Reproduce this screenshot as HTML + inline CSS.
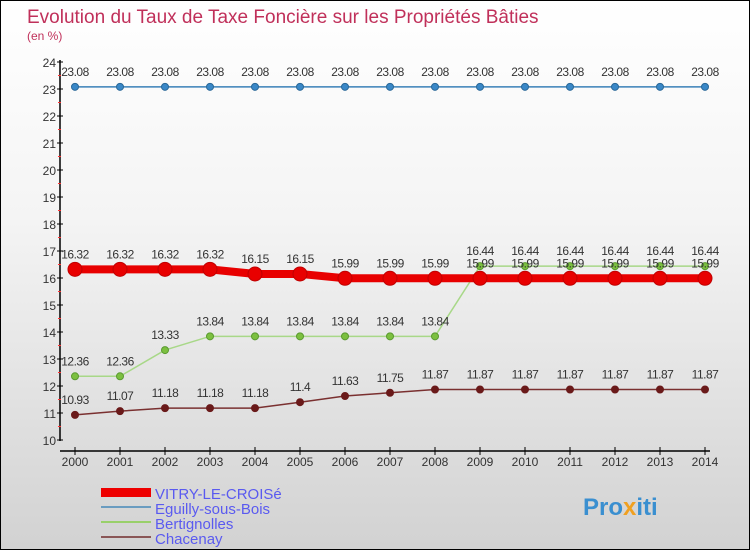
<!DOCTYPE html>
<html><head><meta charset="utf-8"><style>
html,body{margin:0;padding:0}
body{width:750px;height:550px;overflow:hidden;font-family:"Liberation Sans",sans-serif}
#wrap{position:absolute;left:0;top:0;width:748px;height:548px;border:1px solid #000;background:linear-gradient(#fff 0%,#f4f4f4 40%,#d2d2d2 100%)}
</style></head><body>
<div id="wrap">
<svg id="chart" width="750" height="550" style="position:absolute;left:-1px;top:-1px">
<text x="27" y="23" font-size="19" fill="#c0305a">Evolution du Taux de Taxe Foncière sur les Propriétés Bâties</text>
<text x="27" y="40" font-size="12" fill="#c0305a">(en %)</text>
<g id="axes"></g><g id="series"></g>
<g>
<rect x="101" y="488" width="50" height="9" fill="#e00"/>
<rect x="101" y="506" width="50" height="2" fill="#6a9cc0"/>
<rect x="101" y="521" width="50" height="2" fill="#99d06a"/>
<rect x="101" y="536" width="50" height="2" fill="#8a5656"/>
<text x="155" y="499" font-size="15" fill="#5a5af0">VITRY-LE-CROISé</text>
<text x="155" y="514" font-size="15" fill="#5a5af0">Eguilly-sous-Bois</text>
<text x="155" y="529" font-size="15" fill="#5a5af0">Bertignolles</text>
<text x="155" y="544" font-size="15" fill="#5a5af0">Chacenay</text>
</g>
<text x="583" y="515" font-size="24" font-weight="bold" fill="#3a8fd0">Pro<tspan fill="#f0a020">x</tspan>iti</text>
</svg>
</div>
<script>
const years=[2000,2001,2002,2003,2004,2005,2006,2007,2008,2009,2010,2011,2012,2013,2014];
const yTicks=[10,11,12,13,14,15,16,17,18,19,20,21,22,23,24];
const vitry=[16.32,16.32,16.32,16.32,16.15,16.15,15.99,15.99,15.99,15.99,15.99,15.99,15.99,15.99,15.99];
const eguilly=[23.08,23.08,23.08,23.08,23.08,23.08,23.08,23.08,23.08,23.08,23.08,23.08,23.08,23.08,23.08];
const bertignolles=[12.36,12.36,13.33,13.84,13.84,13.84,13.84,13.84,13.84,16.44,16.44,16.44,16.44,16.44,16.44];
const chacenay=[10.93,11.07,11.18,11.18,11.18,11.4,11.63,11.75,11.87,11.87,11.87,11.87,11.87,11.87,11.87];
const NS="http://www.w3.org/2000/svg";
const x=i=>75+(705-75)*(i/(years.length-1));
const y=v=>440-(v-10)*(440-62)/14;
function mk(tag,at,parent){const e=document.createElementNS(NS,tag);for(const k in at)e.setAttribute(k,at[k]);parent.appendChild(e);return e;}
const ax=document.getElementById('axes');
let l=mk('line',{x1:60,y1:60,x2:60,y2:441,stroke:'#000','stroke-width':1.5},ax);


l=mk('line',{x1:60,y1:451,x2:710,y2:451,stroke:'#000','stroke-width':1.5},ax);


yTicks.forEach(t=>{
 mk('line',{x1:57,y1:y(t),x2:63,y2:y(t),stroke:'#000'},ax);
 if(t<24)mk('line',{x1:58,y1:y(t+0.5),x2:61,y2:y(t+0.5),stroke:'#f33'},ax);
 const tx=mk('text',{x:56,y:y(t)+5,'font-size':12,fill:'#333','text-anchor':'end'},ax);
 tx.textContent=t;
 
 
});
years.forEach((yr,i)=>{
 mk('line',{x1:x(i),y1:447,x2:x(i),y2:455,stroke:'#000'},ax);
 const tx=mk('text',{x:x(i),y:466,'font-size':12,fill:'#333','text-anchor':'middle'},ax);
 tx.textContent=yr;
 
 
});
const sg=document.getElementById('series');
function draw(name,vals,color,w,r,dot,stroke){
 const g=mk('g',{},sg);
 
 
 mk('polyline',{points:vals.map((v,i)=>x(i)+','+y(v)).join(' '),fill:'none',stroke:color,'stroke-width':w},g);
 vals.forEach((v,i)=>{
  const c=mk('circle',{cx:x(i),cy:y(v),r:r,fill:dot,stroke:stroke,'stroke-width':1},g);
  
  
  const t=mk('text',{x:x(i),y:y(v)-11,'font-size':12,fill:'#333','text-anchor':'middle','letter-spacing':'-0.5'},g);
  t.textContent=v;
  
  
 });
}
draw('chacenay',chacenay,'#7a3030',1.5,3.5,'#6a1a1a','#6a1a1a');
draw('bertignolles',bertignolles,'#a8d888',1.5,3.5,'#7cc040','#5a9a30');
draw('eguilly',eguilly,'#3a80b8',1.5,3.5,'#3a88c8','#2a6898');
draw('vitry',vitry,'#e80000',8,7,'#e80000','#c00000');
</script>
</body></html>
